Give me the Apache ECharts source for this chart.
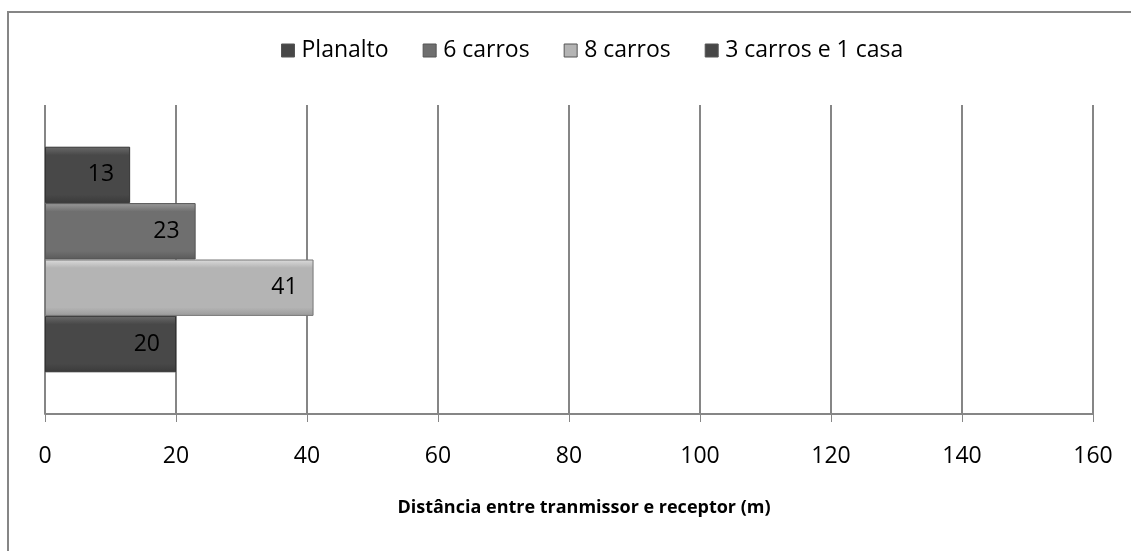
<!DOCTYPE html>
<html>
<head>
<meta charset="utf-8">
<script src="https://cdn.jsdelivr.net/npm/echarts@6/dist/echarts.min.js"></script>
<style>
html,body{margin:0;padding:0;background:#fff;}
#c{width:1131px;height:551px;}
</style>
</head>
<body>
<div id="c"></div>
<script>
const categories = [''];
const seriesNames = ['Planalto', '6 carros', '8 carros', '3 carros e 1 casa'];
const planalto = [13];
const carros6 = [23];
const carros8 = [41];
const carros3casa = [20];
const xTicks = [0, 20, 40, 60, 80, 100, 120, 140, 160];
const axisTitle = 'Distância entre tranmissor e receptor (m)';

const FONT = 'Open Sans, Noto Sans, sans-serif';
function grad(top, mid, bot) {
  return new echarts.graphic.LinearGradient(0, 0, 0, 1, [
    {offset: 0, color: top}, {offset: 0.15, color: mid},
    {offset: 0.85, color: mid}, {offset: 1, color: bot}
  ]);
}
const styles = [
  {color: grad('#6a6a6a', '#484848', '#3a3a3a'), borderColor: '#333'},
  {color: grad('#9a9a9a', '#6f6f6f', '#5a5a5a'), borderColor: '#555'},
  {color: grad('#dcdcdc', '#b4b4b4', '#9a9a9a'), borderColor: '#777'},
  {color: grad('#6a6a6a', '#484848', '#3a3a3a'), borderColor: '#333'}
];
const legendColors = ['#474747', '#6f6f6f', '#b4b4b4', '#474747'];
const dataSets = [planalto, carros6, carros8, carros3casa];

const chart = echarts.init(document.getElementById('c'), null, {renderer: 'canvas'});
chart.setOption({
  animation: false,
  backgroundColor: '#fff',
  textStyle: {fontFamily: FONT},
  graphic: [{
    type: 'rect', shape: {x: 8, y: 12, width: 1200, height: 700},
    style: {fill: 'none', stroke: '#868686', lineWidth: 2}, z: -1
  }],
  legend: {
    top: 34, left: 276, itemGap: 34, itemWidth: 13, itemHeight: 13,
    icon: 'rect',
    textStyle: {fontSize: 23, color: '#000', fontFamily: FONT, padding: [0, 0, 0, 2]},
    data: seriesNames.map((n, i) => ({name: n, itemStyle: {color: legendColors[i], borderColor: '#555', borderWidth: 1}}))
  },
  grid: {left: 45, right: 38, top: 105, bottom: 137, containLabel: false},
  xAxis: {
    type: 'value', min: xTicks[0], max: xTicks[xTicks.length - 1], interval: 20,
    axisLine: {show: true, lineStyle: {color: '#868686', width: 2}},
    axisTick: {show: true, length: 8, lineStyle: {color: '#868686', width: 1}},
    axisLabel: {fontSize: 23, color: '#000', margin: 31, fontFamily: FONT},
    splitLine: {show: true, lineStyle: {color: '#868686', width: 2}},
    name: axisTitle, nameLocation: 'middle', nameGap: 85,
    nameTextStyle: {fontSize: 18, fontWeight: 'bold', color: '#000', fontFamily: FONT, padding: [0, 0, 0, 30]}
  },
  yAxis: {
    type: 'category', data: categories, inverse: true,
    axisLine: {show: false}, axisTick: {show: false}, axisLabel: {show: false}
  },
  series: seriesNames.map((n, i) => ({
    name: n, type: 'bar', data: dataSets[i],
    barGap: '0%', barCategoryGap: '27%',
    itemStyle: Object.assign({borderWidth: 1}, styles[i]),
    label: {show: true, position: 'insideRight', distance: 16, fontSize: 23, color: '#000', fontFamily: FONT}
  }))
});
</script>
</body>
</html>
